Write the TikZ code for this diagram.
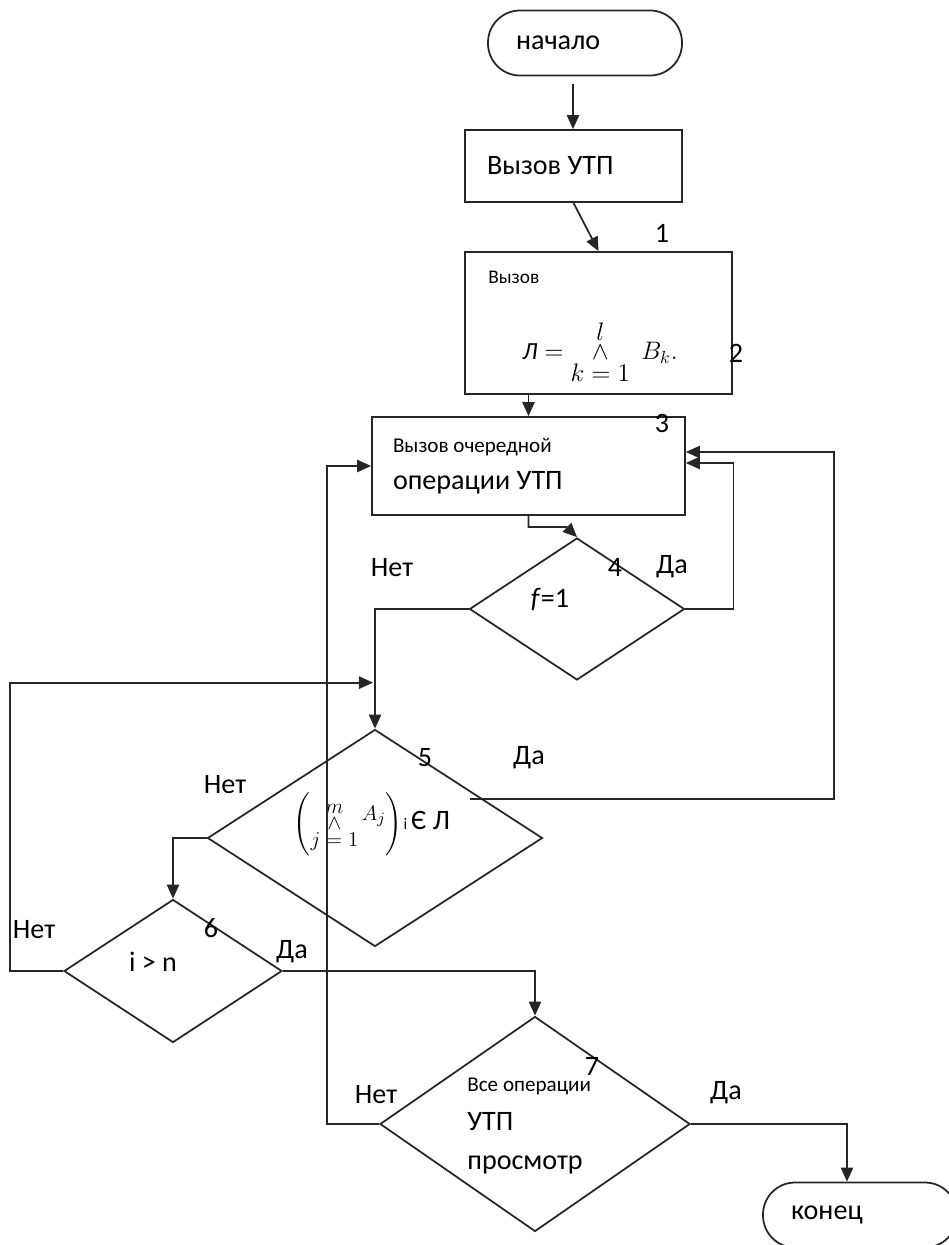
\documentclass[tikz,border=0pt]{standalone}
\usepackage{amsmath}
\usepackage{fontspec}
\setmainfont{Carlito}
\usetikzlibrary{shapes.geometric, arrows.meta, calc}

\newlength\pxu
\setlength\pxu{0.02cm}

\begin{document}
\begin{tikzpicture}[
  x=0.02cm, y=-0.02cm,
  % terminal: pill shape, text pushed to the left
  term/.style={
    rectangle, rounded corners=32\pxu,
    draw=black!85, line width=1pt,
    inner xsep=28\pxu, inner ysep=0pt,
    text width=138\pxu, align=flush left,
    minimum height=65\pxu,
    font=\fontsize{16}{19}\selectfont
  },
  box/.style={
    rectangle, draw=black!85, line width=1pt,
    inner ysep=0pt, align=flush left,
    font=\fontsize{16}{19}\selectfont
  },
  dia/.style={diamond, draw=black!85, line width=1pt, inner sep=0pt},
  txt/.style={inner sep=0pt, font=\fontsize{16}{19}\selectfont},
  arr/.style={-{Triangle[length=8pt,width=7pt]}, black!85, line width=1pt},
]
\useasboundingbox (0,0) rectangle (949,1245);

%% ── Top: start and first calls ────────────────────────────────────────────
\node[term] (start) at (585,43) {начало};

\node[box, inner xsep=22\pxu, text width=173\pxu,
      minimum height=72\pxu] (b1) at (573.5,166) {Вызов УТП};

\node[box, minimum width=267\pxu, minimum height=142\pxu] (b2) at (598.5,323) {};
\node[txt, font=\fontsize{11}{13}\selectfont, anchor=west] (b2t) at (488,277) {Вызов};
\node[txt, font=\fontsize{14}{17}\selectfont] (b2f) at (600,352)
  {$\textit{Л} = \mathop{\wedge}\limits_{\displaystyle k = 1}^{\displaystyle l}\; B_k.$};

\node[box, inner xsep=21\pxu, text width=271\pxu,
      minimum height=98\pxu] (b3) at (528.5,466)
  {{\fontsize{12}{14}\selectfont Вызов очередной}\\[2pt]операции УТП};

%% ── Decisions ─────────────────────────────────────────────────────────────
\node[dia, minimum width=215\pxu, minimum height=142\pxu] (d4) at (577,609) {};
\node[txt] (d4t) at (550,600) {\textit{f}=1};

\node[dia, minimum width=335\pxu, minimum height=217\pxu] (d5) at (375,838) {};
\node[txt, font=\fontsize{13}{16}\selectfont] (d5t) at (372,824)
  {$\left(\mathop{\wedge}\limits_{\displaystyle j = 1}^{\displaystyle m}\raisebox{5pt}{$A_j$}\right)\mkern-2mu{\scriptstyle\text{i}}$\,%
   {\fontsize{16}{19}\selectfont Є Л}};

\node[dia, minimum width=218\pxu, minimum height=143\pxu] (d6) at (173,971) {};
\node[txt] (d6t) at (153,962) {i > n};

\node[dia, minimum width=310\pxu, minimum height=215\pxu] (d7) at (535,1124) {};
\node[txt, align=left, anchor=west] (d7t) at (467,1126)
  {{\fontsize{12}{14}\selectfont Все операции}\\[3pt]УТП\\[3pt]просмотр};

\node[term] (fin) at (860,1215) {конец};

%% ── Numbers and branch labels ─────────────────────────────────────────────
\node[txt] (n1) at (662,233) {1};
\node[txt] (n2) at (736,353) {2};
\node[txt] (n3) at (662,423) {3};
\node[txt] (n4) at (615,567) {4};
\node[txt] (n5) at (425,758) {5};
\node[txt] (n6) at (211,928) {6};
\node[txt] (n7) at (592,1066) {7};

\node[txt] (yes4) at (672,567)  {Да};
\node[txt] (no4)  at (392,568)  {Нет};
\node[txt] (yes5) at (529,758)  {Да};
\node[txt] (no5)  at (225,785)  {Нет};
\node[txt] (yes6) at (292,952)  {Да};
\node[txt] (no6)  at (34,930)   {Нет};
\node[txt] (yes7) at (726,1093) {Да};
\node[txt] (no7)  at (376,1095) {Нет};

%% ── Arrows ────────────────────────────────────────────────────────────────
\coordinate (s0) at ($(start.south)+(-12,8)$);
\coordinate (d5y) at ($(d5.center)+(95,-39)$);
\coordinate (j5) at ($(d5.north)+(-2,-46)$);

\draw[arr] (s0) -- (s0 |- b1.north);
\draw[arr] (b1.south) -- (b2.north);
\draw[arr] (b2.south -| b3.north) -- (b3.north);
\draw[arr] (b3.south) -- ++(0,11) -- ++(38,0) -- (d4.north);

\draw[arr] (d4.east) -- ++(48,0) |- ($(b3.east)+(0,-3)$);
\draw[arr] (d4.west) -| (d5.north);
\draw[arr] (d5y) -| ($(b3.east)+(148,-14)$) -- ($(b3.east)+(0,-14)$);
\draw[arr] (d5.west) -| (d6.north);
\draw[arr] (d6.west) -- ++(-53,0) |- (j5);
\draw[arr] (d6.east) -| (d7.north);
\draw[arr] (d7.west) -- ++(-52,0) |- (b3.west);
\draw[arr] (d7.east) -| ($(fin.north)+(-13,0)$);

\end{tikzpicture}
\end{document}
